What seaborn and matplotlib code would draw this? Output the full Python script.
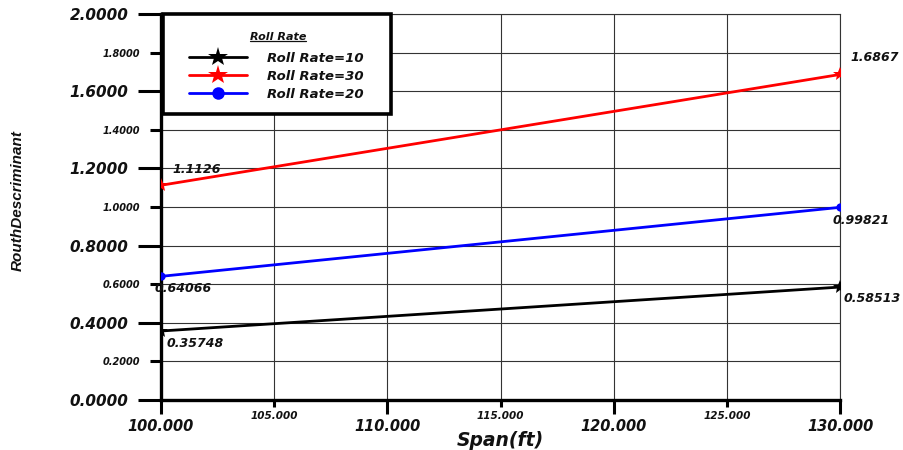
import matplotlib
matplotlib.use("Agg")
import matplotlib.pyplot as plt
import seaborn as sns
import pandas as pd
from matplotlib.ticker import MultipleLocator, FormatStrFormatter
from matplotlib.lines import Line2D
from matplotlib.patches import Rectangle

sns.set_theme(style="white")
plt.rcParams['font.family'] = ['DejaVu Sans']

# ---- data ----
span = [100, 130]
rr10 = [0.35748, 0.58513]
rr30 = [1.1126, 1.6867]
rr20 = [0.64066, 0.99821]
series_names = ["Roll Rate=10", "Roll Rate=30", "Roll Rate=20"]
series_vals = [rr10, rr30, rr20]
series_colors = ["black", "red", "blue"]
series_markers = ["*", "*", "o"]
start_labels = ["0.35748", "1.1126", "0.64066"]
end_labels = ["0.58513", "1.6867", "0.99821"]
legend_title = "Roll Rate"
# annotation offsets in pixels (dx, dy up positive)
start_off = [(6, -12), (11, 16), (-6, -12)]
end_off = [(4, -11), (10, 17), (-7, -13)]

rows = []
for name, vals in zip(series_names, series_vals):
    for x, y in zip(span, vals):
        rows.append({"Span": x, "Value": y, "Series": name})
df = pd.DataFrame(rows)

W, H = 904, 450
fig = plt.figure(figsize=(W / 100, H / 100), dpi=100)
ax = fig.add_axes([161 / W, 1 - 400 / H, (840 - 161) / W, (400 - 14) / H])

for name, col, mk in zip(series_names, series_colors, series_markers):
    sub = df[df["Series"] == name]
    sns.lineplot(data=sub, x="Span", y="Value", color=col, marker=mk,
                 markersize=10 if mk == "*" else 6, markeredgewidth=0,
                 linewidth=2, label=name, ax=ax, zorder=3)

px = 0.72
for vals, sl, el, so, eo in zip(series_vals, start_labels, end_labels, start_off, end_off):
    ax.annotate(sl, (span[0], vals[0]), xytext=(so[0] * px, so[1] * px),
                textcoords="offset points", ha="left", va="center",
                fontsize=9, fontweight="bold", fontstyle="italic", color="#111111",
                annotation_clip=False, zorder=4)
    ax.annotate(el, (span[1], vals[1]), xytext=(eo[0] * px, eo[1] * px),
                textcoords="offset points", ha="left", va="center",
                fontsize=9, fontweight="bold", fontstyle="italic", color="#111111",
                annotation_clip=False, zorder=4)

ax.set_xlim(100, 130)
ax.set_ylim(0, 2.0)
ax.xaxis.set_major_locator(MultipleLocator(10))
ax.xaxis.set_minor_locator(MultipleLocator(5))
ax.yaxis.set_major_locator(MultipleLocator(0.4))
ax.yaxis.set_minor_locator(MultipleLocator(0.2))
ax.xaxis.set_major_formatter(FormatStrFormatter("%.3f"))
ax.xaxis.set_minor_formatter(FormatStrFormatter("%.3f"))
ax.yaxis.set_major_formatter(FormatStrFormatter("%.4f"))
ax.yaxis.set_minor_formatter(FormatStrFormatter("%.4f"))

ax.grid(which="both", color="#333333", linewidth=0.8)
ax.set_axisbelow(True)

for s in ["left", "bottom"]:
    ax.spines[s].set_linewidth(2.4)
    ax.spines[s].set_color("black")
for s in ["top", "right"]:
    ax.spines[s].set_linewidth(0.8)
    ax.spines[s].set_color("#333333")

ax.tick_params(axis="y", which="major", direction="out", length=16.5, width=2.2,
               pad=7, labelsize=11, left=True, color="black")
ax.tick_params(axis="y", which="minor", direction="out", length=8, width=2.2,
               pad=7, labelsize=7, left=True, color="black")
ax.tick_params(axis="x", which="major", direction="out", length=10, width=2.2,
               pad=4, labelsize=10.5, bottom=True, color="black")
ax.tick_params(axis="x", which="minor", direction="out", length=5, width=2.2,
               pad=3, labelsize=7.5, bottom=True, color="black")
for lab in ax.get_xticklabels(which="both") + ax.get_yticklabels(which="both"):
    lab.set_fontweight("bold")
    lab.set_fontstyle("italic")
    lab.set_color("#111111")

ax.set_xlabel("Span(ft)", fontsize=13.5, fontweight="bold", fontstyle="italic",
              color="#111111", va="center")
ax.xaxis.set_label_coords(0.5, -0.104)
ax.set_ylabel("RouthDescriminant", fontsize=11, fontweight="bold", fontstyle="italic",
              family=["Liberation Sans", "DejaVu Sans"], color="#111111", va="center")
ax.yaxis.set_label_coords(-0.2106, 0.518)

# legend box (frame drawn separately to match the reference geometry)
ax.add_patch(Rectangle((163 / W, 1 - 114 / H), 228 / W, 100 / H,
                       transform=fig.transFigure, facecolor="white",
                       edgecolor="black", linewidth=2.6, zorder=5, clip_on=False))
leg = ax.legend(loc="upper left", bbox_to_anchor=(189 / W, 1 - 52 / H),
                bbox_transform=fig.transFigure, borderaxespad=0, borderpad=0,
                frameon=False,
                prop={"weight": "bold", "style": "italic", "size": 9.5},
                handlelength=4.4, handletextpad=1.5, labelspacing=0.38,
                markerscale=1.5)
leg.set_zorder(6)
for t in leg.get_texts():
    t.set_color("#111111")
ttl = ax.text(278 / W, 1 - 37 / H, legend_title, ha="center", va="center",
              transform=fig.transFigure, fontsize=8, fontweight="bold",
              fontstyle="italic", color="#111111", zorder=6, clip_on=False)

fig.canvas.draw()
tb = ttl.get_window_extent()
inv = fig.transFigure.inverted()
(x0, y0), (x1, y1) = inv.transform([(tb.x0, tb.y0 + 1.5), (tb.x1, tb.y0 + 1.5)])
ax.add_line(Line2D([x0, x1], [y0, y1], transform=fig.transFigure,
                   color="#111111", linewidth=0.9, zorder=6, clip_on=False))

fig.savefig("out.png", dpi=100)
